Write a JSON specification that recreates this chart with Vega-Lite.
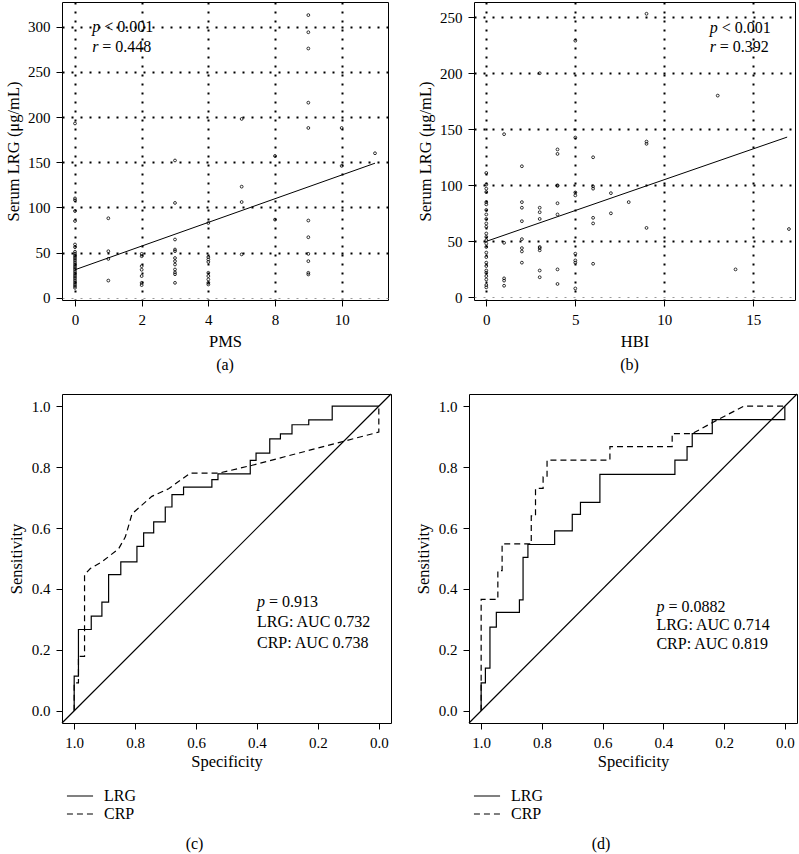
{
  "$schema": "https://vega.github.io/schema/vega-lite/v6.json",
  "padding": {"left": 5, "top": 1, "right": 0, "bottom": 0},
  "config": {
    "font": "Liberation Serif",
    "view": {"stroke": "black", "strokeWidth": 1},
    "axis": {"labelFont": "Liberation Serif", "titleFont": "Liberation Serif", "labelFontSize": 15, "titleFontSize": 16.5, "titleFontWeight": "normal", "labelColor": "black", "titleColor": "black", "tickColor": "black", "domain": false, "grid": false, "tickSize": 6, "labelPadding": 6},
    "title": {"font": "Liberation Serif", "fontSize": 16, "fontWeight": "normal", "color": "black"},
    "text": {"font": "Liberation Serif", "fontSize": 16, "color": "black"},
    "legend": {"labelFont": "Liberation Serif", "labelFontSize": 16, "labelColor": "black"}
  },
  "datasets": {
    "pms": [
      {"PMS": 0, "LRG": 193}, {"PMS": 0, "LRG": 110}, {"PMS": 0, "LRG": 108}, {"PMS": 0, "LRG": 96}, {"PMS": 0, "LRG": 85}, {"PMS": 0, "LRG": 59}, {"PMS": 0, "LRG": 56}, {"PMS": 0, "LRG": 51}, {"PMS": 0, "LRG": 49}, {"PMS": 0, "LRG": 47}, {"PMS": 0, "LRG": 45}, {"PMS": 0, "LRG": 43}, {"PMS": 0, "LRG": 41}, {"PMS": 0, "LRG": 39}, {"PMS": 0, "LRG": 37}, {"PMS": 0, "LRG": 35}, {"PMS": 0, "LRG": 33}, {"PMS": 0, "LRG": 31}, {"PMS": 0, "LRG": 29}, {"PMS": 0, "LRG": 27}, {"PMS": 0, "LRG": 25}, {"PMS": 0, "LRG": 23}, {"PMS": 0, "LRG": 21}, {"PMS": 0, "LRG": 19}, {"PMS": 0, "LRG": 17}, {"PMS": 0, "LRG": 15}, {"PMS": 0, "LRG": 13}, {"PMS": 0, "LRG": 11},
      {"PMS": 1, "LRG": 88}, {"PMS": 1, "LRG": 51.5}, {"PMS": 1, "LRG": 43}, {"PMS": 1, "LRG": 19},
      {"PMS": 2, "LRG": 48.6}, {"PMS": 2, "LRG": 46}, {"PMS": 2, "LRG": 35}, {"PMS": 2, "LRG": 31}, {"PMS": 2, "LRG": 24}, {"PMS": 2, "LRG": 16.5}, {"PMS": 2, "LRG": 14},
      {"PMS": 3, "LRG": 152}, {"PMS": 3, "LRG": 105}, {"PMS": 3, "LRG": 64.5}, {"PMS": 3, "LRG": 53.4}, {"PMS": 3, "LRG": 51.6}, {"PMS": 3, "LRG": 44}, {"PMS": 3, "LRG": 40.5}, {"PMS": 3, "LRG": 36.8}, {"PMS": 3, "LRG": 31.3}, {"PMS": 3, "LRG": 28}, {"PMS": 3, "LRG": 26}, {"PMS": 3, "LRG": 16.5},
      {"PMS": 4, "LRG": 82.8}, {"PMS": 4, "LRG": 45}, {"PMS": 4, "LRG": 42.4}, {"PMS": 4, "LRG": 39.7}, {"PMS": 4, "LRG": 27.6}, {"PMS": 4, "LRG": 24}, {"PMS": 4, "LRG": 20.3}, {"PMS": 4, "LRG": 16.5}, {"PMS": 4, "LRG": 14.7},
      {"PMS": 5, "LRG": 198}, {"PMS": 5, "LRG": 123}, {"PMS": 5, "LRG": 106}, {"PMS": 5, "LRG": 48},
      {"PMS": 8, "LRG": 157}, {"PMS": 8, "LRG": 86.5},
      {"PMS": 9, "LRG": 313}, {"PMS": 9, "LRG": 294}, {"PMS": 9, "LRG": 276}, {"PMS": 9, "LRG": 216}, {"PMS": 9, "LRG": 188}, {"PMS": 9, "LRG": 85.5}, {"PMS": 9, "LRG": 67}, {"PMS": 9, "LRG": 48.6}, {"PMS": 9, "LRG": 40.5}, {"PMS": 9, "LRG": 27.6}, {"PMS": 9, "LRG": 25.8},
      {"PMS": 10, "LRG": 188}, {"PMS": 10, "LRG": 146},
      {"PMS": 11, "LRG": 160}
    ],
    "pmsfit": [{"PMS": 0, "LRG": 31}, {"PMS": 11, "LRG": 149}],
    "hbi": [
      {"HBI": 0, "LRG": 111}, {"HBI": 0, "LRG": 100.7}, {"HBI": 0, "LRG": 97}, {"HBI": 0, "LRG": 94}, {"HBI": 0, "LRG": 85}, {"HBI": 0, "LRG": 83}, {"HBI": 0, "LRG": 78}, {"HBI": 0, "LRG": 74}, {"HBI": 0, "LRG": 70}, {"HBI": 0, "LRG": 66}, {"HBI": 0, "LRG": 63}, {"HBI": 0, "LRG": 57}, {"HBI": 0, "LRG": 54}, {"HBI": 0, "LRG": 51}, {"HBI": 0, "LRG": 48}, {"HBI": 0, "LRG": 45}, {"HBI": 0, "LRG": 40}, {"HBI": 0, "LRG": 36}, {"HBI": 0, "LRG": 31}, {"HBI": 0, "LRG": 28}, {"HBI": 0, "LRG": 24}, {"HBI": 0, "LRG": 22}, {"HBI": 0, "LRG": 19}, {"HBI": 0, "LRG": 16}, {"HBI": 0, "LRG": 11}, {"HBI": 0, "LRG": 9},
      {"HBI": 1, "LRG": 145.6}, {"HBI": 1, "LRG": 48.7}, {"HBI": 1, "LRG": 17}, {"HBI": 1, "LRG": 15}, {"HBI": 1, "LRG": 10.4},
      {"HBI": 2, "LRG": 117}, {"HBI": 2, "LRG": 85}, {"HBI": 2, "LRG": 80}, {"HBI": 2, "LRG": 68}, {"HBI": 2, "LRG": 52}, {"HBI": 2, "LRG": 44}, {"HBI": 2, "LRG": 41}, {"HBI": 2, "LRG": 31},
      {"HBI": 3, "LRG": 200}, {"HBI": 3, "LRG": 80}, {"HBI": 3, "LRG": 76}, {"HBI": 3, "LRG": 70}, {"HBI": 3, "LRG": 45}, {"HBI": 3, "LRG": 44}, {"HBI": 3, "LRG": 42}, {"HBI": 3, "LRG": 24}, {"HBI": 3, "LRG": 18},
      {"HBI": 4, "LRG": 132}, {"HBI": 4, "LRG": 128}, {"HBI": 4, "LRG": 100}, {"HBI": 4, "LRG": 99.5}, {"HBI": 4, "LRG": 84}, {"HBI": 4, "LRG": 74}, {"HBI": 4, "LRG": 25}, {"HBI": 4, "LRG": 12},
      {"HBI": 5, "LRG": 229}, {"HBI": 5, "LRG": 142.6}, {"HBI": 5, "LRG": 93.6}, {"HBI": 5, "LRG": 91}, {"HBI": 5, "LRG": 39}, {"HBI": 5, "LRG": 33}, {"HBI": 5, "LRG": 31}, {"HBI": 5, "LRG": 8},
      {"HBI": 6, "LRG": 125}, {"HBI": 6, "LRG": 99}, {"HBI": 6, "LRG": 97}, {"HBI": 6, "LRG": 71}, {"HBI": 6, "LRG": 66}, {"HBI": 6, "LRG": 30},
      {"HBI": 7, "LRG": 93}, {"HBI": 7, "LRG": 75},
      {"HBI": 8, "LRG": 85},
      {"HBI": 9, "LRG": 253}, {"HBI": 9, "LRG": 139}, {"HBI": 9, "LRG": 137}, {"HBI": 9, "LRG": 62},
      {"HBI": 13, "LRG": 180},
      {"HBI": 14, "LRG": 25},
      {"HBI": 17, "LRG": 61}
    ],
    "hbifit": [{"HBI": 0, "LRG": 50}, {"HBI": 16.9, "LRG": 143}],
    "rocC": [
      {"marker": "LRG", "step": 0, "spec": 1, "sens": 0}, {"marker": "LRG", "step": 1, "spec": 1, "sens": 0.114}, {"marker": "LRG", "step": 2, "spec": 0.986, "sens": 0.114}, {"marker": "LRG", "step": 3, "spec": 0.986, "sens": 0.267}, {"marker": "LRG", "step": 4, "spec": 0.944, "sens": 0.267}, {"marker": "LRG", "step": 5, "spec": 0.944, "sens": 0.311}, {"marker": "LRG", "step": 6, "spec": 0.909, "sens": 0.311}, {"marker": "LRG", "step": 7, "spec": 0.909, "sens": 0.357}, {"marker": "LRG", "step": 8, "spec": 0.887, "sens": 0.357}, {"marker": "LRG", "step": 9, "spec": 0.887, "sens": 0.447}, {"marker": "LRG", "step": 10, "spec": 0.847, "sens": 0.447}, {"marker": "LRG", "step": 11, "spec": 0.847, "sens": 0.489}, {"marker": "LRG", "step": 12, "spec": 0.794, "sens": 0.489}, {"marker": "LRG", "step": 13, "spec": 0.794, "sens": 0.54}, {"marker": "LRG", "step": 14, "spec": 0.772, "sens": 0.54}, {"marker": "LRG", "step": 15, "spec": 0.772, "sens": 0.584}, {"marker": "LRG", "step": 16, "spec": 0.739, "sens": 0.584}, {"marker": "LRG", "step": 17, "spec": 0.739, "sens": 0.62}, {"marker": "LRG", "step": 18, "spec": 0.701, "sens": 0.62}, {"marker": "LRG", "step": 19, "spec": 0.701, "sens": 0.669}, {"marker": "LRG", "step": 20, "spec": 0.679, "sens": 0.669}, {"marker": "LRG", "step": 21, "spec": 0.679, "sens": 0.71}, {"marker": "LRG", "step": 22, "spec": 0.641, "sens": 0.71}, {"marker": "LRG", "step": 23, "spec": 0.641, "sens": 0.734}, {"marker": "LRG", "step": 24, "spec": 0.548, "sens": 0.734}, {"marker": "LRG", "step": 25, "spec": 0.548, "sens": 0.759}, {"marker": "LRG", "step": 26, "spec": 0.528, "sens": 0.759}, {"marker": "LRG", "step": 27, "spec": 0.528, "sens": 0.778}, {"marker": "LRG", "step": 28, "spec": 0.422, "sens": 0.778}, {"marker": "LRG", "step": 29, "spec": 0.422, "sens": 0.822}, {"marker": "LRG", "step": 30, "spec": 0.403, "sens": 0.822}, {"marker": "LRG", "step": 31, "spec": 0.403, "sens": 0.846}, {"marker": "LRG", "step": 32, "spec": 0.358, "sens": 0.846}, {"marker": "LRG", "step": 33, "spec": 0.358, "sens": 0.893}, {"marker": "LRG", "step": 34, "spec": 0.323, "sens": 0.893}, {"marker": "LRG", "step": 35, "spec": 0.323, "sens": 0.909}, {"marker": "LRG", "step": 36, "spec": 0.285, "sens": 0.909}, {"marker": "LRG", "step": 37, "spec": 0.285, "sens": 0.939}, {"marker": "LRG", "step": 38, "spec": 0.23, "sens": 0.939}, {"marker": "LRG", "step": 39, "spec": 0.23, "sens": 0.955}, {"marker": "LRG", "step": 40, "spec": 0.153, "sens": 0.955}, {"marker": "LRG", "step": 41, "spec": 0.153, "sens": 1}, {"marker": "LRG", "step": 42, "spec": 0, "sens": 1},
      {"marker": "CRP", "step": 0, "spec": 1, "sens": 0}, {"marker": "CRP", "step": 1, "spec": 1, "sens": 0.092}, {"marker": "CRP", "step": 2, "spec": 0.986, "sens": 0.092}, {"marker": "CRP", "step": 3, "spec": 0.986, "sens": 0.179}, {"marker": "CRP", "step": 4, "spec": 0.966, "sens": 0.179}, {"marker": "CRP", "step": 5, "spec": 0.966, "sens": 0.447}, {"marker": "CRP", "step": 6, "spec": 0.947, "sens": 0.467}, {"marker": "CRP", "step": 7, "spec": 0.909, "sens": 0.489}, {"marker": "CRP", "step": 8, "spec": 0.854, "sens": 0.532}, {"marker": "CRP", "step": 9, "spec": 0.832, "sens": 0.571}, {"marker": "CRP", "step": 10, "spec": 0.81, "sens": 0.647}, {"marker": "CRP", "step": 11, "spec": 0.745, "sens": 0.704}, {"marker": "CRP", "step": 12, "spec": 0.69, "sens": 0.729}, {"marker": "CRP", "step": 13, "spec": 0.619, "sens": 0.78}, {"marker": "CRP", "step": 14, "spec": 0.526, "sens": 0.78}, {"marker": "CRP", "step": 15, "spec": 0.416, "sens": 0.806}, {"marker": "CRP", "step": 16, "spec": 0, "sens": 0.915}, {"marker": "CRP", "step": 17, "spec": 0, "sens": 1}
    ],
    "rocD": [
      {"marker": "LRG", "step": 0, "spec": 1, "sens": 0}, {"marker": "LRG", "step": 1, "spec": 1, "sens": 0.092}, {"marker": "LRG", "step": 2, "spec": 0.986, "sens": 0.092}, {"marker": "LRG", "step": 3, "spec": 0.986, "sens": 0.14}, {"marker": "LRG", "step": 4, "spec": 0.971, "sens": 0.14}, {"marker": "LRG", "step": 5, "spec": 0.971, "sens": 0.275}, {"marker": "LRG", "step": 6, "spec": 0.95, "sens": 0.275}, {"marker": "LRG", "step": 7, "spec": 0.95, "sens": 0.323}, {"marker": "LRG", "step": 8, "spec": 0.874, "sens": 0.323}, {"marker": "LRG", "step": 9, "spec": 0.874, "sens": 0.364}, {"marker": "LRG", "step": 10, "spec": 0.862, "sens": 0.364}, {"marker": "LRG", "step": 11, "spec": 0.862, "sens": 0.504}, {"marker": "LRG", "step": 12, "spec": 0.846, "sens": 0.504}, {"marker": "LRG", "step": 13, "spec": 0.846, "sens": 0.546}, {"marker": "LRG", "step": 14, "spec": 0.758, "sens": 0.546}, {"marker": "LRG", "step": 15, "spec": 0.758, "sens": 0.591}, {"marker": "LRG", "step": 16, "spec": 0.7, "sens": 0.591}, {"marker": "LRG", "step": 17, "spec": 0.7, "sens": 0.645}, {"marker": "LRG", "step": 18, "spec": 0.673, "sens": 0.645}, {"marker": "LRG", "step": 19, "spec": 0.673, "sens": 0.684}, {"marker": "LRG", "step": 20, "spec": 0.609, "sens": 0.684}, {"marker": "LRG", "step": 21, "spec": 0.609, "sens": 0.776}, {"marker": "LRG", "step": 22, "spec": 0.362, "sens": 0.776}, {"marker": "LRG", "step": 23, "spec": 0.362, "sens": 0.823}, {"marker": "LRG", "step": 24, "spec": 0.322, "sens": 0.823}, {"marker": "LRG", "step": 25, "spec": 0.322, "sens": 0.867}, {"marker": "LRG", "step": 26, "spec": 0.305, "sens": 0.867}, {"marker": "LRG", "step": 27, "spec": 0.305, "sens": 0.91}, {"marker": "LRG", "step": 28, "spec": 0.239, "sens": 0.91}, {"marker": "LRG", "step": 29, "spec": 0.239, "sens": 0.956}, {"marker": "LRG", "step": 30, "spec": 0, "sens": 0.956}, {"marker": "LRG", "step": 31, "spec": 0, "sens": 1},
      {"marker": "CRP", "step": 0, "spec": 1, "sens": 0}, {"marker": "CRP", "step": 1, "spec": 1, "sens": 0.366}, {"marker": "CRP", "step": 2, "spec": 0.945, "sens": 0.366}, {"marker": "CRP", "step": 3, "spec": 0.945, "sens": 0.46}, {"marker": "CRP", "step": 4, "spec": 0.931, "sens": 0.46}, {"marker": "CRP", "step": 5, "spec": 0.931, "sens": 0.548}, {"marker": "CRP", "step": 6, "spec": 0.835, "sens": 0.548}, {"marker": "CRP", "step": 7, "spec": 0.835, "sens": 0.64}, {"marker": "CRP", "step": 8, "spec": 0.821, "sens": 0.64}, {"marker": "CRP", "step": 9, "spec": 0.821, "sens": 0.73}, {"marker": "CRP", "step": 10, "spec": 0.796, "sens": 0.73}, {"marker": "CRP", "step": 11, "spec": 0.796, "sens": 0.768}, {"marker": "CRP", "step": 12, "spec": 0.783, "sens": 0.768}, {"marker": "CRP", "step": 13, "spec": 0.783, "sens": 0.823}, {"marker": "CRP", "step": 14, "spec": 0.576, "sens": 0.823}, {"marker": "CRP", "step": 15, "spec": 0.576, "sens": 0.867}, {"marker": "CRP", "step": 16, "spec": 0.371, "sens": 0.867}, {"marker": "CRP", "step": 17, "spec": 0.371, "sens": 0.91}, {"marker": "CRP", "step": 18, "spec": 0.305, "sens": 0.91}, {"marker": "CRP", "step": 19, "spec": 0.22, "sens": 0.956}, {"marker": "CRP", "step": 20, "spec": 0.135, "sens": 1}, {"marker": "CRP", "step": 21, "spec": 0, "sens": 1}
    ]
  },
  "spacing": 19,
  "resolve": {"scale": {"strokeDash": "independent"}, "legend": {"strokeDash": "independent"}},
  "vconcat": [
    {
      "spacing": 28,
      "hconcat": [
        {
          "width": 326, "height": 298,
          "title": {"text": "(a)", "orient": "bottom", "offset": 7},
          "layer": [
            {
              "data": {"name": "pms"},
              "mark": {"type": "point", "shape": "circle", "size": 8, "strokeWidth": 0.8, "color": "black", "opacity": 1},
              "encoding": {
                "x": {"field": "PMS", "type": "ordinal", "scale": {"type": "point", "domain": [0, 1, 2, 3, 4, 5, 8, 9, 10, 11], "padding": 0.39}, "axis": {"title": "PMS", "values": [0, 2, 4, 8, 10], "labelAngle": 0, "grid": true, "gridDash": [2, 7], "gridWidth": 2, "gridColor": "black", "titlePadding": 6}},
                "y": {"field": "LRG", "type": "quantitative", "scale": {"domain": [-2.5, 327.5], "nice": false, "zero": false}, "axis": {"title": "Serum LRG (μg/mL)", "values": [0, 50, 100, 150, 200, 250, 300], "grid": true, "gridDash": [2, 7], "gridWidth": {"condition": {"test": "datum.value === 0", "value": 1.2}, "value": 2}, "gridColor": {"condition": {"test": "datum.value === 0", "value": "#999999"}, "value": "black"}, "titlePadding": 6}}
              }
            },
            {
              "data": {"name": "pmsfit"},
              "mark": {"type": "line", "color": "black", "strokeWidth": 1},
              "encoding": {"x": {"field": "PMS", "type": "ordinal"}, "y": {"field": "LRG", "type": "quantitative"}}
            },
            {
              "data": {"values": [{}]},
              "mark": {"type": "text", "text": "p", "fontSize": 16, "fontStyle": "italic", "align": "left", "baseline": "middle", "dx": -16},
              "encoding": {"x": {"datum": 1, "type": "ordinal"}, "y": {"datum": 300, "type": "quantitative"}}
            },
            {
              "data": {"values": [{}]},
              "mark": {"type": "text", "text": "< 0.001", "fontSize": 16, "align": "left", "baseline": "middle", "dx": -4},
              "encoding": {"x": {"datum": 1, "type": "ordinal"}, "y": {"datum": 300, "type": "quantitative"}}
            },
            {
              "data": {"values": [{}]},
              "mark": {"type": "text", "text": "r", "fontSize": 16, "fontStyle": "italic", "align": "left", "baseline": "middle", "dx": -16},
              "encoding": {"x": {"datum": 1, "type": "ordinal"}, "y": {"datum": 278, "type": "quantitative"}}
            },
            {
              "data": {"values": [{}]},
              "mark": {"type": "text", "text": "= 0.448", "fontSize": 16, "align": "left", "baseline": "middle", "dx": -6},
              "encoding": {"x": {"datum": 1, "type": "ordinal"}, "y": {"datum": 278, "type": "quantitative"}}
            }
          ]
        },
        {
          "width": 321, "height": 298,
          "title": {"text": "(b)", "orient": "bottom", "offset": 7, "dx": -5},
          "layer": [
            {
              "data": {"name": "hbi"},
              "mark": {"type": "point", "shape": "circle", "size": 8, "strokeWidth": 0.8, "color": "black", "opacity": 1},
              "encoding": {
                "x": {"field": "HBI", "type": "quantitative", "scale": {"domain": [-0.69, 17.34], "nice": false, "zero": false}, "axis": {"title": "HBI", "values": [0, 5, 10, 15], "grid": true, "gridDash": [2, 7], "gridWidth": 2, "gridColor": "black", "titlePadding": 6}},
                "y": {"field": "LRG", "type": "quantitative", "scale": {"domain": [-2.3, 263.5], "nice": false, "zero": false}, "axis": {"title": "Serum LRG (μg/mL)", "values": [0, 50, 100, 150, 200, 250], "grid": true, "gridDash": [2, 7], "gridWidth": {"condition": {"test": "datum.value === 0", "value": 1.2}, "value": 2}, "gridColor": {"condition": {"test": "datum.value === 0", "value": "#999999"}, "value": "black"}, "titlePadding": 6}}
              }
            },
            {
              "data": {"name": "hbifit"},
              "mark": {"type": "line", "color": "black", "strokeWidth": 1},
              "encoding": {"x": {"field": "HBI", "type": "quantitative"}, "y": {"field": "LRG", "type": "quantitative"}}
            },
            {
              "data": {"values": [{}]},
              "mark": {"type": "text", "text": "p", "fontSize": 16, "fontStyle": "italic", "align": "left", "baseline": "middle"},
              "encoding": {"x": {"datum": 12.55, "type": "quantitative"}, "y": {"datum": 240.4, "type": "quantitative"}}
            },
            {
              "data": {"values": [{}]},
              "mark": {"type": "text", "text": "< 0.001", "fontSize": 16, "align": "left", "baseline": "middle", "dx": 12},
              "encoding": {"x": {"datum": 12.55, "type": "quantitative"}, "y": {"datum": 240.4, "type": "quantitative"}}
            },
            {
              "data": {"values": [{}]},
              "mark": {"type": "text", "text": "r", "fontSize": 16, "fontStyle": "italic", "align": "left", "baseline": "middle"},
              "encoding": {"x": {"datum": 12.55, "type": "quantitative"}, "y": {"datum": 223.5, "type": "quantitative"}}
            },
            {
              "data": {"values": [{}]},
              "mark": {"type": "text", "text": "= 0.392", "fontSize": 16, "align": "left", "baseline": "middle", "dx": 10},
              "encoding": {"x": {"datum": 12.55, "type": "quantitative"}, "y": {"datum": 223.5, "type": "quantitative"}}
            }
          ]
        }
      ]
    },
    {
      "spacing": 21,
      "resolve": {"scale": {"strokeDash": "independent"}, "legend": {"strokeDash": "independent"}},
      "hconcat": [
        {
          "width": 329, "height": 329,
          "title": {"text": "(c)", "orient": "bottom", "offset": 10, "dx": -32},
          "layer": [
            {
              "data": {"values": [{}]},
              "mark": {"type": "rule", "color": "black", "strokeWidth": 1.2},
              "encoding": {"x": {"datum": 1.04, "type": "quantitative"}, "y": {"datum": -0.04, "type": "quantitative"}, "x2": {"datum": -0.04}, "y2": {"datum": 1.04}}
            },
            {
              "data": {"name": "rocC"},
              "mark": {"type": "line", "color": "black", "strokeWidth": 1.2},
              "encoding": {
                "x": {"field": "spec", "type": "quantitative", "scale": {"domain": [-0.04, 1.04], "reverse": true, "nice": false, "zero": false}, "axis": {"title": "Specificity", "values": [0, 0.2, 0.4, 0.6, 0.8, 1], "format": ".1f", "titlePadding": 3}},
                "y": {"field": "sens", "type": "quantitative", "scale": {"domain": [-0.04, 1.04], "nice": false, "zero": false}, "axis": {"title": "Sensitivity", "values": [0, 0.2, 0.4, 0.6, 0.8, 1], "format": ".1f", "titlePadding": 7}},
                "order": {"field": "step", "type": "quantitative"},
                "strokeDash": {"field": "marker", "type": "nominal", "scale": {"domain": ["LRG", "CRP"], "range": [[1, 0], [6, 4]]}, "legend": {"orient": "bottom", "direction": "vertical", "title": null, "symbolType": "M-1.45,0H1.45", "symbolSize": 324, "symbolStrokeWidth": 1.2, "symbolStrokeColor": "black", "symbolOffset": 4, "offset": 12, "rowPadding": 0, "labelOffset": 14, "padding": 4}}
              }
            },
            {
              "data": {"values": [{}]},
              "mark": {"type": "text", "text": "p", "fontSize": 16, "fontStyle": "italic", "align": "left", "baseline": "middle"},
              "encoding": {"x": {"datum": 0.4, "type": "quantitative"}, "y": {"datum": 0.357, "type": "quantitative"}}
            },
            {
              "data": {"values": [{}]},
              "mark": {"type": "text", "text": "= 0.913", "fontSize": 16, "align": "left", "baseline": "middle", "dx": 12},
              "encoding": {"x": {"datum": 0.4, "type": "quantitative"}, "y": {"datum": 0.357, "type": "quantitative"}}
            },
            {
              "data": {"values": [{}]},
              "mark": {"type": "text", "text": "LRG: AUC 0.732", "fontSize": 16, "align": "left", "baseline": "middle"},
              "encoding": {"x": {"datum": 0.4, "type": "quantitative"}, "y": {"datum": 0.29, "type": "quantitative"}}
            },
            {
              "data": {"values": [{}]},
              "mark": {"type": "text", "text": "CRP: AUC 0.738", "fontSize": 16, "align": "left", "baseline": "middle"},
              "encoding": {"x": {"datum": 0.4, "type": "quantitative"}, "y": {"datum": 0.224, "type": "quantitative"}}
            }
          ]
        },
        {
          "width": 328, "height": 329,
          "title": {"text": "(d)", "orient": "bottom", "offset": 10, "dx": -32},
          "layer": [
            {
              "data": {"values": [{}]},
              "mark": {"type": "rule", "color": "black", "strokeWidth": 1.2},
              "encoding": {"x": {"datum": 1.04, "type": "quantitative"}, "y": {"datum": -0.04, "type": "quantitative"}, "x2": {"datum": -0.04}, "y2": {"datum": 1.04}}
            },
            {
              "data": {"name": "rocD"},
              "mark": {"type": "line", "color": "black", "strokeWidth": 1.2},
              "encoding": {
                "x": {"field": "spec", "type": "quantitative", "scale": {"domain": [-0.04, 1.04], "reverse": true, "nice": false, "zero": false}, "axis": {"title": "Specificity", "values": [0, 0.2, 0.4, 0.6, 0.8, 1], "format": ".1f", "titlePadding": 3}},
                "y": {"field": "sens", "type": "quantitative", "scale": {"domain": [-0.04, 1.04], "nice": false, "zero": false}, "axis": {"title": "Sensitivity", "values": [0, 0.2, 0.4, 0.6, 0.8, 1], "format": ".1f", "titlePadding": 7}},
                "order": {"field": "step", "type": "quantitative"},
                "strokeDash": {"field": "marker", "type": "nominal", "scale": {"domain": ["LRG", "CRP"], "range": [[1, 0], [6, 4]]}, "legend": {"orient": "bottom", "direction": "vertical", "title": null, "symbolType": "M-1.45,0H1.45", "symbolSize": 324, "symbolStrokeWidth": 1.2, "symbolStrokeColor": "black", "symbolOffset": 4, "offset": 12, "rowPadding": 0, "labelOffset": 14, "padding": 4}}
              }
            },
            {
              "data": {"values": [{}]},
              "mark": {"type": "text", "text": "p", "fontSize": 16, "fontStyle": "italic", "align": "left", "baseline": "middle"},
              "encoding": {"x": {"datum": 0.423, "type": "quantitative"}, "y": {"datum": 0.341, "type": "quantitative"}}
            },
            {
              "data": {"values": [{}]},
              "mark": {"type": "text", "text": "= 0.0882", "fontSize": 16, "align": "left", "baseline": "middle", "dx": 12},
              "encoding": {"x": {"datum": 0.423, "type": "quantitative"}, "y": {"datum": 0.341, "type": "quantitative"}}
            },
            {
              "data": {"values": [{}]},
              "mark": {"type": "text", "text": "LRG: AUC 0.714", "fontSize": 16, "align": "left", "baseline": "middle"},
              "encoding": {"x": {"datum": 0.423, "type": "quantitative"}, "y": {"datum": 0.281, "type": "quantitative"}}
            },
            {
              "data": {"values": [{}]},
              "mark": {"type": "text", "text": "CRP: AUC 0.819", "fontSize": 16, "align": "left", "baseline": "middle"},
              "encoding": {"x": {"datum": 0.423, "type": "quantitative"}, "y": {"datum": 0.218, "type": "quantitative"}}
            }
          ]
        }
      ]
    }
  ]
}
